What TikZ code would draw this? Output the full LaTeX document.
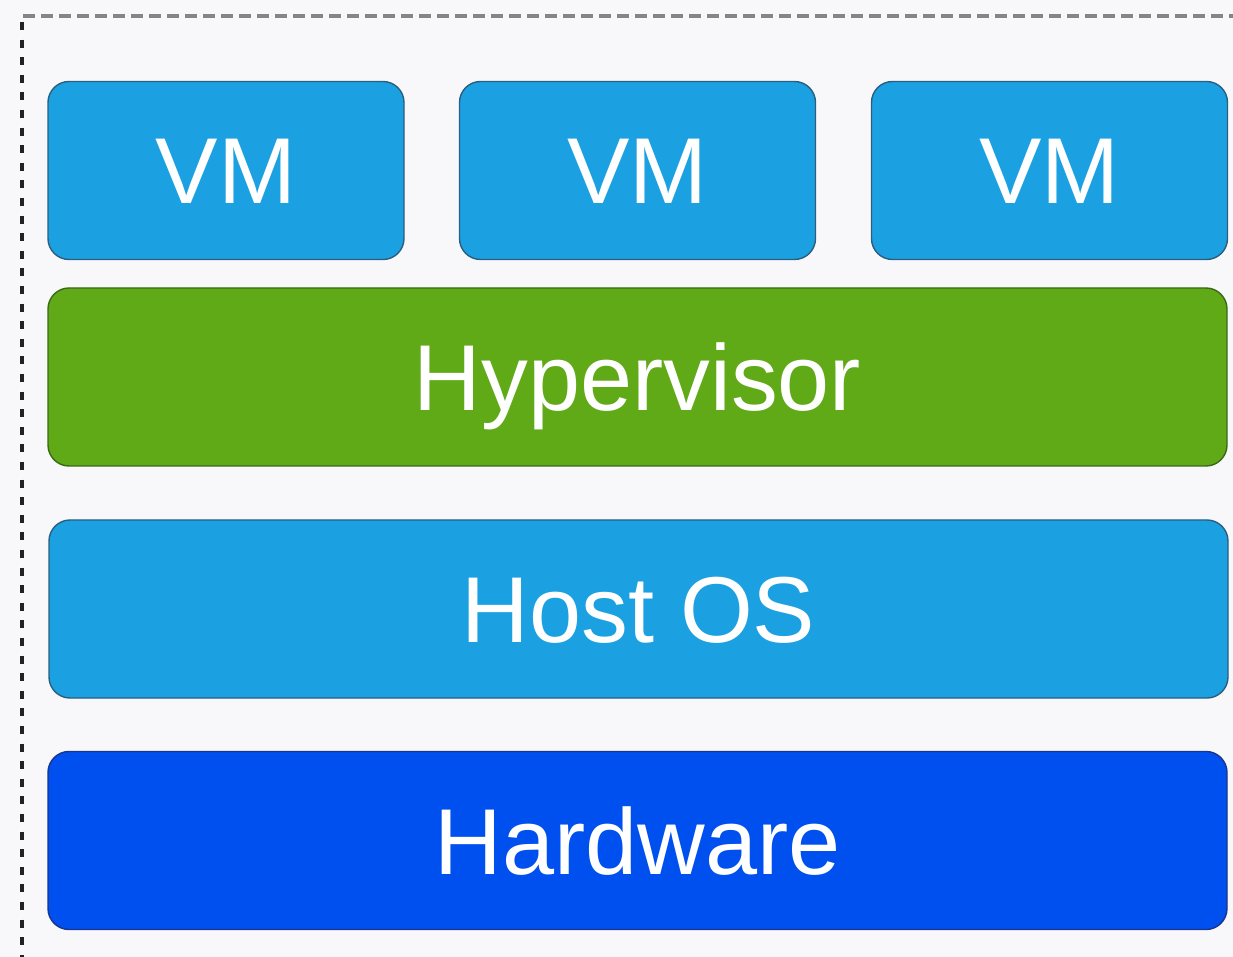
\documentclass[tikz,border=0pt]{standalone}
\usepackage{fontspec}
\setmainfont{Liberation Sans}
\definecolor{bgc}{HTML}{F8F8FA}
\definecolor{vmfill}{HTML}{1BA1E2}
\definecolor{vmline}{HTML}{2A5F80}
\definecolor{hvfill}{HTML}{60A917}
\definecolor{hvline}{HTML}{3A6A18}
\definecolor{hwfill}{HTML}{0050EF}
\definecolor{hwline}{HTML}{1A3590}
\definecolor{topdash}{HTML}{858585}
\definecolor{leftdash}{HTML}{222222}
\tikzset{
  layer/.style={rounded corners=10.5pt, line width=0.7pt, inner sep=0pt,
    text=white, font=\fontsize{46.8pt}{50pt}\selectfont,
    text height=33.5pt, text depth=0pt, minimum height=89pt},
  vmbox/.style={layer, fill=vmfill, draw=vmline, minimum width=178pt},
  widebox/.style={layer, minimum width=589.5pt},
}
\begin{document}
\begin{tikzpicture}[x=0.5pt,y=-0.5pt]
\fill[bgc] (0,0) rectangle (1233,957);
\useasboundingbox (0,0) rectangle (1233,957);
\draw[topdash, line width=1.6pt, dash pattern=on 6pt off 3pt] (23,16) -- (1233,16);
\draw[leftdash, line width=1.6pt, dash pattern=on 4pt off 4.8pt] (22,22) -- (22,957);
\node[vmbox] (vm1) at (226,170.5) {VM};
\node[vmbox] (vm2) at (637.5,170.5) {VM};
\node[vmbox] (vm3) at (1049.5,170.5) {VM};
\node[widebox, fill=hvfill, draw=hvline] (hv) at (637.5,377) {Hypervisor};
\node[widebox, fill=vmfill, draw=vmline] (os) at (638.5,609) {Host OS};
\node[widebox, fill=hwfill, draw=hwline] (hw) at (637.5,840.5) {Hardware};
\end{tikzpicture}
\end{document}
